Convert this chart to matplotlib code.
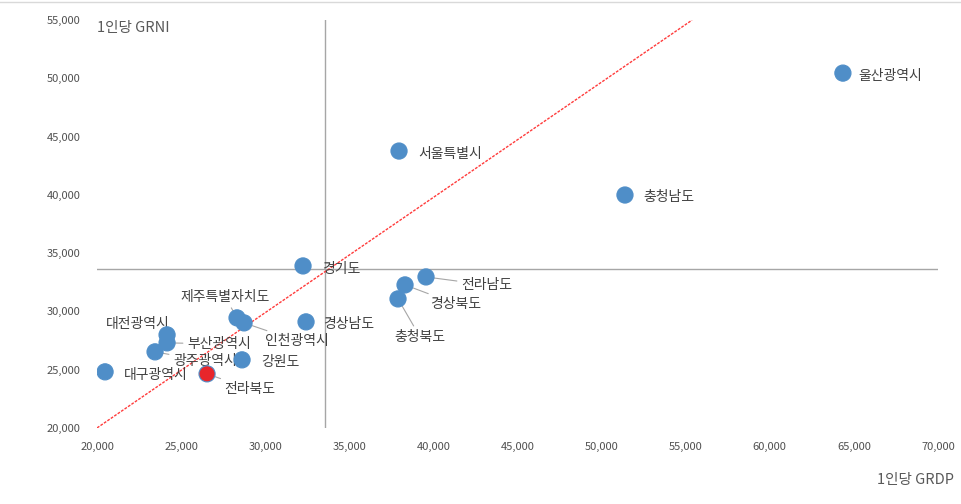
import matplotlib.pyplot as plt
from matplotlib.ticker import FuncFormatter

plt.rcParams['font.family'] = ['Noto Sans CJK KR', 'DejaVu Sans']

regions = ['울산광역시', '서울특별시', '충청남도', '경기도', '전라남도', '경상북도', '충청북도', '경상남도',
           '제주특별자치도', '인천광역시', '대전광역시', '부산광역시', '광주광역시', '대구광역시', '전라북도', '강원도']
grdp = [64350, 37955, 51391, 32247, 39560, 38312, 37895, 32426,
        28323, 28740, 24162, 24162, 23448, 20476, 26540, 28621]
grni = [50455, 43765, 39991, 33902, 32958, 32273, 31072, 29100,
        29443, 29014, 27985, 27298, 26527, 24811, 24640, 25840]
highlight = '전라북도'
avg_grdp = 33555
avg_grni = 33645
diag_x = [20000, 55375]
diag_y = [20000, 55000]

# label offsets in pixels (dx, dy, ha, leader line)
label_pos = {
    '울산광역시': (15, -3, 'left', False),
    '서울특별시': (19, -3, 'left', False),
    '충청남도': (18, -2, 'left', False),
    '경기도': (19, -3, 'left', False),
    '전라남도': (35, -8, 'left', True),
    '경상북도': (25, -19, 'left', True),
    '충청북도': (22, -38, 'center', True),
    '경상남도': (17, -2, 'left', False),
    '제주특별자치도': (-12, 21, 'center', True),
    '인천광역시': (21, -18, 'left', True),
    '대전광역시': (3, 11, 'right', False),
    '부산광역시': (20, -1, 'left', True),
    '광주광역시': (18, -9, 'left', True),
    '대구광역시': (19, -3, 'left', False),
    '전라북도': (17, -15, 'left', True),
    '강원도': (19, -2, 'left', False),
}

fig = plt.figure(figsize=(9.61, 5.04), dpi=100)
ax = fig.add_axes([0.101, 0.151, 0.875, 0.809])

ax.axvline(avg_grdp, color='#a6a6a6', lw=1, zorder=1)
ax.axhline(avg_grni, color='#a6a6a6', lw=1, zorder=1)
ax.plot(diag_x, diag_y, color='#ff3b3b', lw=1, ls=(0, (2, 1)), zorder=2)

colors = ['#e8262b' if r == highlight else '#4f8ec8' for r in regions]
ax.scatter(grdp, grni, s=135, c=colors, edgecolors='#4f8ec8', linewidths=0.8, zorder=4)

for r, x, y in zip(regions, grdp, grni):
    dx, dy, ha, leader = label_pos[r]
    arrow = dict(arrowstyle='-', color='#a6a6a6', lw=0.8, shrinkA=1, shrinkB=0) if leader else None
    ax.annotate(r, (x, y), xytext=(dx, dy), textcoords='offset pixels', ha=ha, va='center',
                fontsize=10, color='#404040', arrowprops=arrow, zorder=3)

ax.set_xlim(20000, 70000)
ax.set_ylim(20000, 55000)
ax.set_xticks(range(20000, 70001, 5000))
ax.set_yticks(range(20000, 55001, 5000))
fmt = FuncFormatter(lambda v, p: f'{int(v):,}')
ax.xaxis.set_major_formatter(fmt)
ax.yaxis.set_major_formatter(fmt)
ax.tick_params(length=0, labelsize=8, labelcolor='#505050', pad=10)
ax.tick_params(axis='y', pad=12)
for s in ax.spines.values():
    s.set_visible(False)

fig.text(0.101, 0.945, '1인당 GRNI', fontsize=10.5, color='#595959', va='center')
fig.text(0.993, 0.047, '1인당 GRDP', fontsize=10.5, color='#595959', va='center', ha='right')
fig.add_artist(plt.Line2D([0, 1], [0.996, 0.996], color='#d9d9d9', lw=1))

fig.savefig('out.png', dpi=100)
